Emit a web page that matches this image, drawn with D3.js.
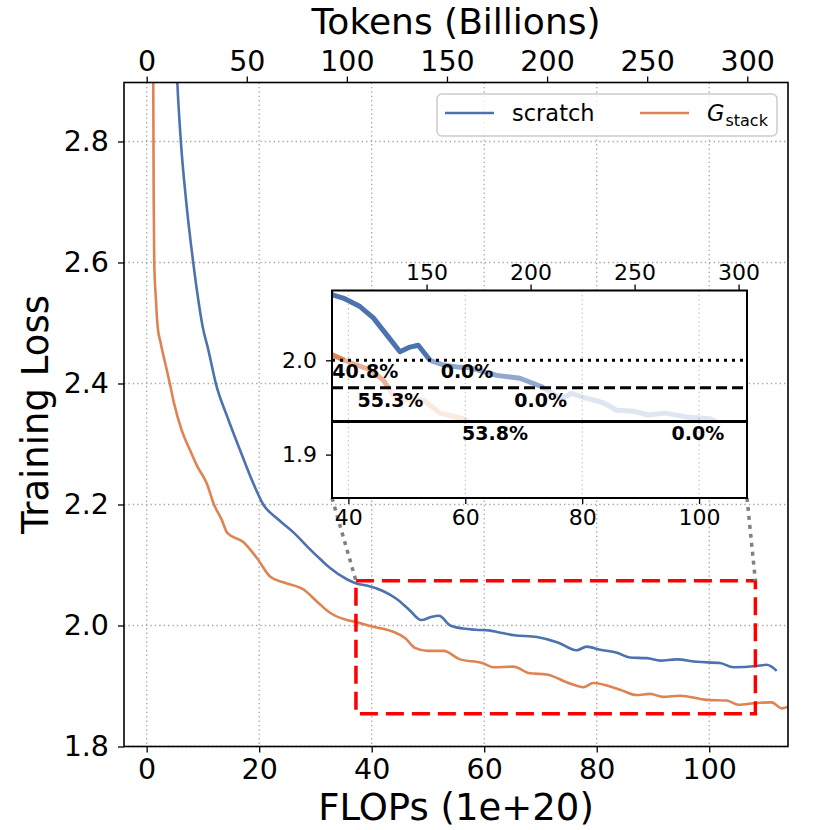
<!DOCTYPE html>
<html>
<head>
<meta charset="utf-8">
<script src="https://cdn.jsdelivr.net/npm/d3@7"></script>
<style>
	body { margin: 0; background: #fff; }
	text { font-family: "DejaVu Sans", sans-serif; fill: #000; }
</style>
</head>
<body>
<svg id="chart" width="830" height="830"></svg>
<script>
// training loss curves, FLOPs in units of 1e+20
const scratchFlops = [5.0, 5.44, 6.10, 6.99, 8.29, 9.18, 9.95, 10.95, 12.32, 14.33, 16.59, 18.95, 20.73, 23.3, 26.19, 28.6, 30.93, 32.6, 35.66, 37.42, 39.13, 41.99, 44.27, 46.56, 48.83, 50.54, 51.96, 53.97, 56.24, 58.53, 60.81, 62.52, 65.38, 69.36, 73.08, 76.4, 78.2, 80.6, 83.6, 85.9, 88.9, 91.3, 94.2, 97.8, 101.9, 104.3, 108.4, 110.2, 112.0];
const scratchLoss = [3.0, 2.899, 2.797, 2.704, 2.599, 2.538, 2.494, 2.456, 2.399, 2.345, 2.290, 2.235, 2.200, 2.176, 2.153, 2.130, 2.109, 2.095, 2.076, 2.069, 2.066, 2.057, 2.045, 2.027, 2.009, 2.014, 2.016, 2.000, 1.995, 1.993, 1.992, 1.989, 1.984, 1.981, 1.972, 1.959, 1.965, 1.960, 1.955, 1.947, 1.946, 1.942, 1.944, 1.940, 1.938, 1.931, 1.933, 1.935, 1.925];

const stackFlops = [1.1, 1.17, 1.25, 1.35, 1.65, 1.95, 2.49, 3.43, 4.14, 4.85, 6.22, 7.70, 9.0, 10.67, 11.96, 13.33, 14.33, 17.17, 19.56, 22.04, 24.41, 27.96, 30.33, 32.59, 35.56, 37.15, 39.7, 43.7, 45.98, 47.69, 49.98, 52.8, 55.68, 59.66, 61.62, 65.17, 68.14, 71.11, 75.25, 77.62, 79.4, 84.14, 87.11, 89.47, 91.84, 94.81, 99.56, 103.1, 105.2, 108.4, 111.1, 112.9, 114.0];
const stackLoss = [3.0, 2.899, 2.704, 2.599, 2.538, 2.494, 2.467, 2.428, 2.399, 2.368, 2.323, 2.290, 2.263, 2.235, 2.200, 2.175, 2.153, 2.138, 2.112, 2.080, 2.071, 2.059, 2.039, 2.021, 2.009, 2.006, 1.999, 1.990, 1.979, 1.963, 1.958, 1.958, 1.944, 1.938, 1.931, 1.932, 1.921, 1.919, 1.904, 1.898, 1.905, 1.894, 1.885, 1.887, 1.882, 1.884, 1.877, 1.876, 1.869, 1.872, 1.873, 1.863, 1.866];

const xDomain = [-4.03, 114.0];
const yDomain = [1.8, 2.8975];
const xTicks = [0, 20, 40, 60, 80, 100];
const yTicks = [1.8, 2.0, 2.2, 2.4, 2.6, 2.8];
const tokenTicks = [0, 50, 100, 150, 200, 250, 300];
const tokensPerFlop = 2.81;

// zoomed region shown in the inset
const zoomX = [37.2, 108.2];
const zoomY = [1.854, 2.074];
const insetXTicks = [40, 60, 80, 100];
const insetYTicks = [1.9, 2.0];
const insetTokenTicks = [150, 200, 250, 300];

// loss targets and the compute savings printed next to them
const targetLoss = [2.0, 1.971, 1.935];
const savingText = ["40.8%", "0.0%", "55.3%", "0.0%", "53.8%", "0.0%"];
const savingFlops = [42.9, 60.3, 47.2, 72.9, 65.1, 99.8];
const savingLoss = [1.989, 1.989, 1.958, 1.958, 1.923, 1.923];

const seriesNames = ["scratch", "stack"];
const colors = { scratch: "#4c72b0", stack: "#dd8452" };

const series = [
	{ name: "scratch", pts: scratchFlops.map((x, i) => [x, scratchLoss[i]]) },
	{ name: "stack", pts: stackFlops.map((x, i) => [x, stackLoss[i]]) },
];

const svg = d3.select("svg#chart");
const plot = { left: 124, right: 788, top: 82.5, bottom: 746.5 };
const inset = { left: 332, right: 747, top: 290.5, bottom: 498 };

const x = d3.scaleLinear().domain(xDomain).range([plot.left, plot.right]);
const y = d3.scaleLinear().domain(yDomain).range([plot.bottom, plot.top]);
const xTop = d3.scaleLinear()
	.domain(xDomain.map((d) => d * tokensPerFlop))
	.range([plot.left, plot.right]);

const defs = svg.append("defs");
defs.append("clipPath").attr("id", "clip-main")
	.append("rect")
	.attr("x", plot.left).attr("y", plot.top)
	.attr("width", plot.right - plot.left).attr("height", plot.bottom - plot.top);
defs.append("clipPath").attr("id", "clip-inset")
	.append("rect")
	.attr("x", inset.left).attr("y", inset.top)
	.attr("width", inset.right - inset.left).attr("height", inset.bottom - inset.top);

/*
 * grid (only from bottom x axis and left y axis)
 */
const grid = svg.append("g");
grid.selectAll("line.gx").data(xTicks).join("line")
	.attr("x1", (d) => x(d)).attr("x2", (d) => x(d))
	.attr("y1", plot.top).attr("y2", plot.bottom);
grid.selectAll("line.gy").data(yTicks).join("line")
	.attr("x1", plot.left).attr("x2", plot.right)
	.attr("y1", (d) => y(d)).attr("y2", (d) => y(d));
grid.selectAll("line")
	.attr("stroke", "#a8a8a8")
	.attr("stroke-width", 1.3)
	.attr("stroke-dasharray", "1.4,3");

// main curves
const line = d3.line()
	.x((d) => x(d[0]))
	.y((d) => y(d[1]))
	.curve(d3.curveMonotoneX);
svg.append("g").attr("clip-path", "url(#clip-main)")
	.selectAll("path")
	.data(series)
	.join("path")
	.attr("d", (d) => line(d.pts))
	.attr("fill", "none")
	.attr("stroke", (d) => colors[d.name])
	.attr("stroke-width", 2.6)
	.attr("stroke-linejoin", "round");

// frame + axes
svg.append("rect")
	.attr("x", plot.left).attr("y", plot.top)
	.attr("width", plot.right - plot.left).attr("height", plot.bottom - plot.top)
	.attr("fill", "none").attr("stroke", "#000").attr("stroke-width", 1.6);

function styleAxis(g, size) {
	g.select(".domain").remove();
	g.selectAll(".tick line").attr("stroke", "#000").attr("stroke-width", 1.3);
	g.selectAll(".tick text")
		.attr("font-family", "DejaVu Sans")
		.attr("font-size", size)
		.attr("fill", "#000");
}

svg.append("g")
	.attr("transform", `translate(0,${plot.bottom})`)
	.call(d3.axisBottom(x).tickValues(xTicks).tickFormat(d3.format("d")).tickSize(6).tickPadding(6))
	.call(styleAxis, 28.5);
svg.append("g")
	.attr("transform", `translate(${plot.left},0)`)
	.call(d3.axisLeft(y).tickValues(yTicks).tickFormat(d3.format(".1f")).tickSize(6).tickPadding(9))
	.call(styleAxis, 28.5);
svg.append("g")
	.attr("transform", `translate(0,${plot.top})`)
	.call(d3.axisTop(xTop).tickValues(tokenTicks).tickFormat(d3.format("d")).tickSize(6).tickPadding(6))
	.call(styleAxis, 28.5);

// axis titles
const midX = (plot.left + plot.right) / 2;
svg.append("text").text("Tokens (Billions)")
	.attr("x", midX).attr("y", 34)
	.attr("text-anchor", "middle").attr("font-size", 36);
svg.append("text").text("FLOPs (1e+20)")
	.attr("x", midX).attr("y", 820)
	.attr("text-anchor", "middle").attr("font-size", 37);
svg.append("text").text("Training Loss")
	.attr("transform", `translate(48,${(plot.top + plot.bottom) / 2}) rotate(-90)`)
	.attr("text-anchor", "middle").attr("font-size", 37);

/*
 * legend
 */
const legend = svg.append("g").attr("transform", "translate(437,94)");
legend.append("rect")
	.attr("width", 340).attr("height", 42).attr("rx", 5)
	.attr("fill", "#fff").attr("fill-opacity", 0.8)
	.attr("stroke", "#cccccc").attr("stroke-width", 1.5);
const entries = legend.selectAll("g.entry")
	.data(seriesNames)
	.join("g")
	.attr("transform", (d, i) => `translate(${8 + i * 195},0)`);
entries.append("line")
	.attr("x1", 0).attr("x2", 49).attr("y1", 19).attr("y2", 19)
	.attr("stroke", (d) => colors[d]).attr("stroke-width", 2.6);
const labels = entries.append("text")
	.attr("x", 67).attr("y", 27).attr("font-size", 22.5);
labels.filter((d) => d === "scratch").text("scratch");
const gLabel = labels.filter((d) => d === "stack");
gLabel.append("tspan").text("G").attr("font-style", "italic");
gLabel.append("tspan").text("stack").attr("font-size", 16).attr("dy", 5).attr("dx", 1);

/*
 * zoom box + connectors
 */
svg.append("rect")
	.attr("x", x(zoomX[0])).attr("y", y(zoomY[1]))
	.attr("width", x(zoomX[1]) - x(zoomX[0]))
	.attr("height", y(zoomY[0]) - y(zoomY[1]))
	.attr("fill", "none").attr("stroke", "#ff0000")
	.attr("stroke-width", 3.5).attr("stroke-dasharray", "18,8");

svg.selectAll("line.connector")
	.data([[inset.left, zoomX[0]], [inset.right, zoomX[1]]])
	.join("line")
	.attr("x1", (d) => d[0]).attr("y1", inset.bottom)
	.attr("x2", (d) => x(d[1])).attr("y2", y(zoomY[1]))
	.attr("stroke", "#808080").attr("stroke-width", 3.5)
	.attr("stroke-dasharray", "4,5");

/*
 * inset
 */
const ix = d3.scaleLinear().domain(zoomX).range([inset.left, inset.right]);
const iy = d3.scaleLinear().domain(zoomY).range([inset.bottom, inset.top]);
const ixTop = d3.scaleLinear()
	.domain(zoomX.map((d) => d * tokensPerFlop))
	.range([inset.left, inset.right]);

const ins = svg.append("g");
ins.append("rect")
	.attr("x", inset.left).attr("y", inset.top)
	.attr("width", inset.right - inset.left).attr("height", inset.bottom - inset.top)
	.attr("fill", "#fff");

ins.selectAll("line.igx").data(insetXTicks).join("line")
	.attr("x1", (d) => ix(d)).attr("x2", (d) => ix(d))
	.attr("y1", inset.top).attr("y2", inset.bottom)
	.attr("stroke", "#c4c4c4").attr("stroke-width", 1.2)
	.attr("stroke-dasharray", "1.4,3");

// split a curve at its first crossing of each loss target
function splitAtTargets(pts) {
	const out = targetLoss.map(() => []);
	let level = 0;
	for (let i = 0; i < pts.length && level < targetLoss.length; i++) {
		const p = pts[i];
		out[level].push(p);
		const q = pts[i + 1];
		while (q && level < targetLoss.length && q[1] <= targetLoss[level]) {
			const t = (targetLoss[level] - p[1]) / (q[1] - p[1]);
			const c = [p[0] + t * (q[0] - p[0]), targetLoss[level]];
			out[level].push(c);
			level += 1;
			if (level < targetLoss.length) out[level].push(c);
		}
	}
	return out;
}

const fade = [1, 0.62, 0.18];
const iline = d3.line().x((d) => ix(d[0])).y((d) => iy(d[1]));
const insetCurves = ins.append("g").attr("clip-path", "url(#clip-inset)");
series.forEach((s) => {
	splitAtTargets(s.pts).forEach((seg, k) => {
		insetCurves.append("path")
			.attr("d", iline(seg))
			.attr("fill", "none")
			.attr("stroke", colors[s.name])
			.attr("stroke-opacity", fade[k])
			.attr("stroke-width", 5)
			.attr("stroke-linejoin", "round");
	});
});

// target loss lines
const dashes = ["3,5", "11,5", null];
ins.selectAll("line.target").data(targetLoss).join("line")
	.attr("x1", inset.left).attr("x2", inset.right)
	.attr("y1", (d) => iy(d)).attr("y2", (d) => iy(d))
	.attr("stroke", "#000").attr("stroke-width", 3)
	.attr("stroke-dasharray", (d, i) => dashes[i]);

ins.selectAll("text.saving").data(savingText).join("text")
	.attr("x", (d, i) => ix(savingFlops[i]))
	.attr("y", (d, i) => iy(savingLoss[i]) + 7)
	.attr("text-anchor", "middle")
	.attr("font-size", 19).attr("font-weight", "bold")
	.text((d) => d);

ins.append("rect")
	.attr("x", inset.left).attr("y", inset.top)
	.attr("width", inset.right - inset.left).attr("height", inset.bottom - inset.top)
	.attr("fill", "none").attr("stroke", "#000").attr("stroke-width", 2);

ins.append("g")
	.attr("transform", `translate(0,${inset.bottom})`)
	.call(d3.axisBottom(ix).tickValues(insetXTicks).tickFormat(d3.format("d")).tickSize(6).tickPadding(5))
	.call(styleAxis, 22);
ins.append("g")
	.attr("transform", `translate(${inset.left},0)`)
	.call(d3.axisLeft(iy).tickValues(insetYTicks).tickFormat(d3.format(".1f")).tickSize(6).tickPadding(9))
	.call(styleAxis, 22);
ins.append("g")
	.attr("transform", `translate(0,${inset.top})`)
	.call(d3.axisTop(ixTop).tickValues(insetTokenTicks).tickFormat(d3.format("d")).tickSize(6).tickPadding(5))
	.call(styleAxis, 22);
</script>
</body>
</html>
